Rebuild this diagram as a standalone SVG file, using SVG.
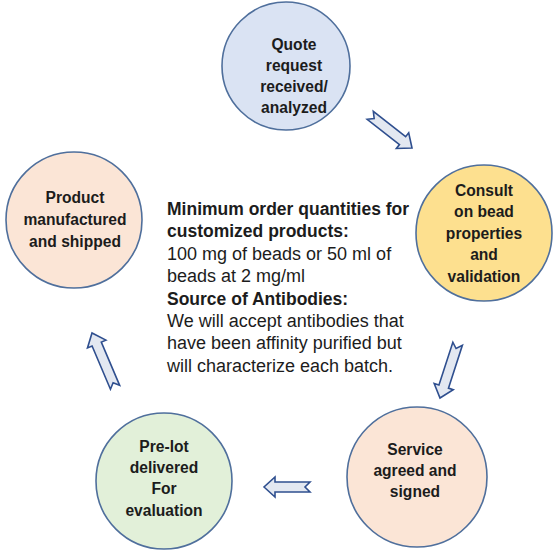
<svg xmlns="http://www.w3.org/2000/svg" width="555" height="560" viewBox="0 0 555 560">
<style>
.c{stroke:#4f6f9c;stroke-width:1.6}
.t{font-family:"Liberation Sans",Arial,sans-serif;font-weight:bold;font-size:15.6px;fill:#1c1c1c;text-anchor:middle}
.m{font-family:"Liberation Sans",Arial,sans-serif;font-size:18px;fill:#1c1c1c}
.b{font-weight:bold;font-size:17.5px}
.arr{fill:#e3e8f1;stroke:#2f4f8f;stroke-width:1.6;stroke-linejoin:miter}
</style>
<rect width="555" height="560" fill="#ffffff"/>
<g id="n1">
<circle class="c" cx="286" cy="66" r="64" fill="#dae3f3"/>
<text class="t" x="294" y="50">Quote</text>
<text class="t" x="294" y="71">request</text>
<text class="t" x="294" y="92">received/</text>
<text class="t" x="294" y="113">analyzed</text>
</g>
<g id="n2">
<circle class="c" cx="484" cy="233" r="68" fill="#fde08f"/>
<text class="t" x="484" y="196">Consult</text>
<text class="t" x="484" y="217">on bead</text>
<text class="t" x="484" y="239">properties</text>
<text class="t" x="484" y="260">and</text>
<text class="t" x="484" y="282">validation</text>
</g>
<g id="n3">
<circle class="c" cx="417" cy="477" r="70" fill="#fbe5d6"/>
<text class="t" x="415" y="455">Service</text>
<text class="t" x="415" y="476">agreed and</text>
<text class="t" x="415" y="497">signed</text>
</g>
<g id="n4">
<circle class="c" cx="164" cy="481" r="68" fill="#e2f0d9"/>
<text class="t" x="164" y="452">Pre-lot</text>
<text class="t" x="164" y="473">delivered</text>
<text class="t" x="164" y="494">For</text>
<text class="t" x="164" y="516">evaluation</text>
</g>
<g id="n5">
<circle class="c" cx="74" cy="220" r="68" fill="#fbe5d6"/>
<text class="t" x="75" y="203">Product</text>
<text class="t" x="75" y="225">manufactured</text>
<text class="t" x="75" y="247">and shipped</text>
</g>
<g id="info">
<text class="m b" x="167" y="215">Minimum order quantities for</text>
<text class="m b" x="167" y="237">customized products:</text>
<text class="m" x="167" y="260">100 mg of beads or 50 ml of</text>
<text class="m" x="167" y="282">beads at 2 mg/ml</text>
<text class="m b" x="167" y="305">Source of Antibodies:</text>
<text class="m" x="167" y="327">We will accept antibodies that</text>
<text class="m" x="167" y="349">have been affinity purified but</text>
<text class="m" x="167" y="372">will characterize each batch.</text>
</g>
<g id="connectors">
<path class="arr" transform="translate(412,148) rotate(38)" d="M0,0 L-12,-10 L-12,-5 L-53,-5 L-48,0 L-53,5 L-12,5 L-12,10 Z"/>
<path class="arr" transform="translate(440,398) rotate(108)" d="M0,0 L-12,-10 L-12,-5 L-57,-5 L-52,0 L-57,5 L-12,5 L-12,10 Z"/>
<path class="arr" transform="translate(264,487) rotate(180)" d="M0,0 L-11,-10 L-11,-5 L-46,-5 L-41,0 L-46,5 L-11,5 L-11,10 Z"/>
<path class="arr" transform="translate(92,333) rotate(247)" d="M0,0 L-12,-10 L-12,-5 L-59,-5 L-54,0 L-59,5 L-12,5 L-12,10 Z"/>
</g>
</svg>
